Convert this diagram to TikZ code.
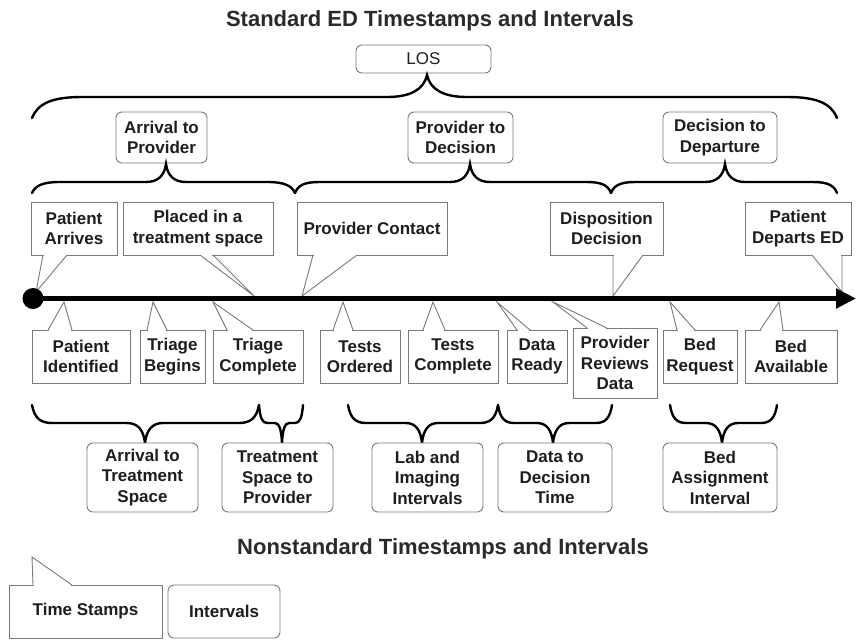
\documentclass[tikz,border=0pt]{standalone}
\usepackage{fontspec}
\setmainfont{Liberation Sans}
\usetikzlibrary{arrows.meta}
\definecolor{txt}{HTML}{1E1E1E}
\definecolor{ttl}{HTML}{2A2A2A}
\definecolor{bord}{HTML}{7A7A7A}
% #1 x1, #2 x2, #3 xtip, #4 y ends, #5 y bar, #6 y tip, #7 end radius, #8 tip radius
\newcommand{\cbrace}[8]{%
\draw[bracestyle] (#1,#4) .. controls ({#1+0.12*#7},{#5+0.3*(#4-#5)}) and ({#1+0.4*#7},#5) .. ({#1+#7},#5)
 -- ({#3-#8},#5) .. controls ({#3-0.4*#8},#5) and ({#3-0.08*#8},{#5+0.35*(#6-#5)}) .. (#3,#6)
 .. controls ({#3+0.08*#8},{#5+0.35*(#6-#5)}) and ({#3+0.4*#8},#5) .. ({#3+#8},#5)
 -- ({#2-#7},#5) .. controls ({#2-0.4*#7},#5) and ({#2-0.12*#7},{#5+0.3*(#4-#5)}) .. (#2,#4);}
% #1 name, #2 base x1, #3 base x2, #4 base y, #5 tip x, #6 tip y
\newcommand{\cpointer}[6]{%
\coordinate (#1-b1) at (#2,#4);
\coordinate (#1-b2) at (#3,#4);
\coordinate (#1-tip) at (#5,#6);
\fill[white] ({#2+0.7},{#4-1.3}) rectangle ({#3-0.7},{#4+1.3});
\draw[ptr] (#1-b1) -- (#1-tip) -- (#1-b2);}
\begin{document}
\begin{tikzpicture}[x=1pt,y=-1pt,
  box/.style={draw=bord, line width=0.9pt, fill=white, text=txt, align=center, inner sep=0pt,
    font=\bfseries\fontsize{17}{20.5}\selectfont},
  rbox/.style={box, rounded corners=6pt},
  ptr/.style={draw=bord, line width=0.9pt, line join=miter},
  bracestyle/.style={line width=2.4pt, black, line cap=round},
  ttlstyle/.style={text=ttl, font=\bfseries\fontsize{22}{26}\selectfont}]
\useasboundingbox (0,0) rectangle (856,641);
\fill[white] (0,0) rectangle (856,641);

% titles
\node[ttlstyle] (t1) at (430,21) {Standard ED Timestamps and Intervals};
\node[ttlstyle] (t2) at (443,549) {Nonstandard Timestamps and Intervals};

% LOS
\node[rbox, font=\fontsize{17}{20.5}\selectfont, minimum width=135, minimum height=28] (los) at (423.5,59) {LOS};
\cbrace{32}{837}{427}{118}{97}{75}{50}{40}

% level 2
\node[rbox, minimum width=91, minimum height=51] (ap) at (161.5,137.5) {Arrival to\\Provider};
\node[rbox, minimum width=105, minimum height=51] (pd) at (460.5,137.5) {Provider to\\Decision};
\node[rbox, minimum width=114, minimum height=51] (dd) at (720,137.5) {Decision to\\Departure};
\cbrace{32}{295}{166}{193}{182}{164}{28}{20}
\cbrace{295}{611}{470}{193}{182}{164}{24}{20}
\cbrace{611}{837}{725}{193}{182}{164}{24}{20}

% top callouts
\node[box, minimum width=86, minimum height=53] (pa) at (74,228.5) {Patient\\Arrives};
\node[box, minimum width=150, minimum height=53] (pt) at (198,228.5) {Placed in a\\treatment space};
\node[box, minimum width=150, minimum height=53] (pc) at (372,228.5) {Provider Contact};
\node[box, minimum width=113, minimum height=53] (dispo) at (606.5,228.5) {Disposition\\Decision};
\node[box, minimum width=106, minimum height=53] (pde) at (798,228.5) {Patient\\Departs ED};
\cpointer{pa}{43}{67}{255}{36}{292}
\cpointer{pt}{200}{213}{255}{254}{296}
\cpointer{pc}{313}{357}{255}{302}{296}
\cpointer{dispo}{613}{643}{255}{613}{296}
\cpointer{pde}{812}{842}{255}{842}{292}

% bottom callouts
\node[box, minimum width=98, minimum height=53] (pid) at (81,356.5) {Patient\\Identified};
\node[box, minimum width=65, minimum height=53] (tb) at (172.5,356.5) {Triage\\Begins};
\node[box, minimum width=90, minimum height=53] (tc) at (258,356.5) {Triage\\Complete};
\node[box, minimum width=80, minimum height=53] (to) at (360,356.5) {Tests\\Ordered};
\node[box, minimum width=90, minimum height=53] (tcomp) at (453,356.5) {Tests\\Complete};
\node[box, minimum width=60, minimum height=53] (dr) at (537,356.5) {Data\\Ready};
\node[box, minimum width=84, minimum height=70] (prd) at (615,363) {Provider\\Reviews\\Data};
\node[box, minimum width=74, minimum height=53] (br) at (700,356.5) {Bed\\Request};
\node[box, minimum width=92, minimum height=53] (ba) at (791,356.5) {Bed\\Available};
\cpointer{pid}{48}{72}{330}{64}{302}
\cpointer{tb}{147}{167}{330}{153}{302}
\cpointer{tc}{227}{253}{330}{213}{302}
\cpointer{to}{333}{353}{330}{343}{302}
\cpointer{tcomp}{423}{445}{330}{433}{302}
\cpointer{dr}{517}{530}{330}{497}{302}
\cpointer{prd}{587}{607}{328}{553}{302}
\cpointer{br}{677}{695}{330}{670}{302}
\cpointer{ba}{760}{783}{330}{779}{302}

% timeline
\coordinate (tl0) at (33,298.5);
\coordinate (tl1) at (856,298.5);
\draw[line width=5.5pt, -{Triangle[length=20pt,width=19pt]}] (tl0) -- (tl1);
\fill[black] (tl0) circle (10.5);

% bottom braces
\cbrace{32}{259}{145}{405}{423}{443}{20}{18}
\cbrace{259}{303}{282}{405}{423}{443}{8}{7}
\cbrace{348}{498}{422}{405}{423}{443}{18}{16}
\cbrace{498}{612}{553}{405}{423}{443}{16}{16}
\cbrace{670}{777}{722}{405}{423}{443}{16}{16}

% interval boxes
\node[rbox, minimum width=111, minimum height=69] (ats) at (142.5,477.5) {Arrival to\\Treatment\\Space};
\node[rbox, minimum width=111, minimum height=69] (tsp) at (277.5,477.5) {Treatment\\Space to\\Provider};
\node[rbox, minimum width=111, minimum height=69] (lii) at (427.5,477.5) {Lab and\\Imaging\\Intervals};
\node[rbox, minimum width=114, minimum height=69] (ddt) at (555,477.5) {Data to\\Decision\\Time};
\node[rbox, minimum width=114, minimum height=69] (bai) at (720,477.5) {Bed\\Assignment\\Interval};

% legend
\node[box, minimum width=153, minimum height=53] (ts) at (85.5,611.5) {Time Stamps};
\cpointer{ts}{33}{72}{585}{32}{557}
\node[rbox, minimum width=112, minimum height=53] (iv) at (224,611.5) {Intervals};
\end{tikzpicture}
\end{document}
